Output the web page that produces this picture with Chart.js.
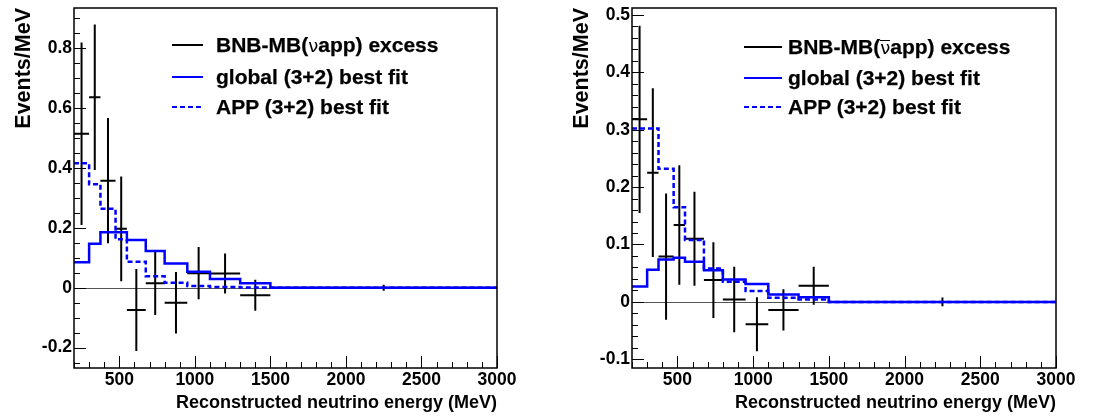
<!DOCTYPE html>
<html>
<head>
<meta charset="utf-8">
<script src="https://cdn.jsdelivr.net/npm/chart.js"></script>
<style>
html,body{margin:0;padding:0;background:#fff;width:1093px;height:419px;overflow:hidden;}
.panel{position:absolute;top:0;height:419px;}
.legend{position:absolute;left:0;top:0;font-family:'Liberation Sans',Arial,Helvetica,sans-serif;font-weight:bold;font-size:21px;color:#000;-webkit-text-stroke:0.25px #000;}
.row{position:absolute;white-space:nowrap;height:24px;line-height:24px;}
.sample{position:absolute;top:11px;height:2px;}
.txt{position:absolute;top:0;}
.nu{font-family:'DejaVu Sans',sans-serif;font-weight:normal;font-size:18px;-webkit-text-stroke:0;}
.bar{display:inline-block;line-height:14px;border-top:1.5px solid #000;}
</style>
</head>
<body>
<div class="panel" style="left:0;width:546px;"><canvas id="cNu" width="546" height="419"></canvas></div>
<div class="panel" style="left:558px;width:535px;"><canvas id="cNubar" width="535" height="419"></canvas></div>

<div class="legend">
  <div class="row" style="left:172px;top:33px;"><span class="sample" style="left:0;width:31px;background:#000;"></span><span class="txt" style="left:44px;">BNB-MB(<span class="nu">ν</span>app) excess</span></div>
  <div class="row" style="left:172px;top:65px;"><span class="sample" style="left:0;width:31px;background:#0000ff;"></span><span class="txt" style="left:44px;">global (3+2) best fit</span></div>
  <div class="row" style="left:172px;top:95px;"><span class="sample" style="left:0;width:31px;background:repeating-linear-gradient(to right,#0000ff 0 5px,transparent 5px 8px);"></span><span class="txt" style="left:44px;">APP (3+2) best fit</span></div>

  <div class="row" style="left:744px;top:35px;"><span class="sample" style="left:0;width:38px;background:#000;"></span><span class="txt" style="left:44px;">BNB-MB(<span class="nu bar">ν</span>app) excess</span></div>
  <div class="row" style="left:744px;top:66px;"><span class="sample" style="left:0;width:38px;background:#0000ff;"></span><span class="txt" style="left:44px;">global (3+2) best fit</span></div>
  <div class="row" style="left:744px;top:95px;"><span class="sample" style="left:0;width:38px;background:repeating-linear-gradient(to right,#0000ff 0 5px,transparent 5px 8px);"></span><span class="txt" style="left:44px;">APP (3+2) best fit</span></div>
</div>

<script>
// ---- bins and ticks ----
const binEdges = [200, 300, 375, 475, 550, 675, 800, 950, 1100, 1300, 1500, 3000];
const xTickValues = [500, 1000, 1500, 2000, 2500, 3000];
const xTickLabels = ['500', '1000', '1500', '2000', '2500', '3000'];
const nuYTickValues = [-0.2, 0, 0.2, 0.4, 0.6, 0.8];
const nuYTickLabels = ['-0.2', '0', '0.2', '0.4', '0.6', '0.8'];
const nubarYTickValues = [-0.1, 0, 0.1, 0.2, 0.3, 0.4, 0.5];
const nubarYTickLabels = ['-0.1', '0', '0.1', '0.2', '0.3', '0.4', '0.5'];

// ---- neutrino mode (left) ----
const nuExcess     = [0.515, 0.637, 0.358, 0.197, -0.074, 0.015, -0.050, 0.049, 0.048, -0.025, 0.0];
const nuExcessErr  = [0.305, 0.243, 0.209, 0.175, 0.137, 0.106, 0.103, 0.087, 0.067, 0.052, 0.010];
const nuGlobalFit  = [0.085, 0.147, 0.186, 0.186, 0.160, 0.123, 0.081, 0.054, 0.029, 0.015, 0.0];
const nuAppFit     = [0.416, 0.346, 0.264, 0.162, 0.087, 0.039, 0.017, 0.006, 0.003, 0.001, 0.0];

// ---- antineutrino mode (right) ----
const nubarExcess    = [0.318, 0.225, 0.079, 0.134, 0.110, 0.038, 0.004, -0.039, -0.014, 0.028, 0.0];
const nubarExcessErr = [0.163, 0.147, 0.110, 0.104, 0.082, 0.066, 0.057, 0.047, 0.036, 0.033, 0.0075];
const nubarGlobalFit = [0.027, 0.056, 0.074, 0.077, 0.070, 0.055, 0.039, 0.031, 0.013, 0.008, 0.0];
const nubarAppFit    = [0.302, 0.302, 0.232, 0.165, 0.108, 0.058, 0.035, 0.019, 0.007, 0.004, 0.0];

const FONT = "'Liberation Sans', Arial, Helvetica, sans-serif";
Chart.defaults.font.family = FONT;
Chart.defaults.font.weight = 'bold';
Chart.defaults.color = '#000';

function stepData(vals) {
  const d = vals.map((v, i) => ({x: binEdges[i], y: v}));
  d.push({x: binEdges[binEdges.length - 1], y: vals[vals.length - 1]});
  return d;
}
function errData(vals, errs) {
  const d = [];
  vals.forEach((v, i) => {
    const lo = binEdges[i], hi = binEdges[i + 1], c = (lo + hi) / 2;
    d.push({x: c, y: v - errs[i]}, {x: c, y: v + errs[i]}, {x: c, y: null},
           {x: lo, y: v}, {x: hi, y: v}, {x: hi, y: null});
  });
  return d;
}

const frameTicks = {
  id: 'frameTicks',
  beforeDatasetsDraw(chart) {
    const {ctx, chartArea: a, scales: {y}} = chart;
    const y0 = Math.round(y.getPixelForValue(0)) + 0.5;
    ctx.save();
    ctx.strokeStyle = '#555';
    ctx.lineWidth = 1;
    ctx.beginPath(); ctx.moveTo(a.left, y0); ctx.lineTo(a.right, y0); ctx.stroke();
    ctx.restore();
  },
  afterDraw(chart, args, o) {
    const {ctx, chartArea: a, scales: {x, y}} = chart;
    ctx.save();
    ctx.strokeStyle = '#000';
    ctx.lineWidth = 1;
    const isMajor = (v, m) => Math.abs(v / m - Math.round(v / m)) < 1e-6;
    for (let k = Math.ceil(x.min / o.xMinor - 1e-9); k * o.xMinor <= x.max + 1e-9; k++) {
      const v = k * o.xMinor, px = Math.round(x.getPixelForValue(v)) + 0.5;
      const len = isMajor(v, o.xMajor) ? 12 : 6;
      ctx.beginPath(); ctx.moveTo(px, a.bottom); ctx.lineTo(px, a.bottom - len); ctx.stroke();
    }
    for (let k = Math.ceil(y.min / o.yMinor - 1e-9); k * o.yMinor <= y.max + 1e-9; k++) {
      const v = k * o.yMinor, py = Math.round(y.getPixelForValue(v)) + 0.5;
      const len = isMajor(v, o.yMajor) ? 12 : 6;
      ctx.beginPath(); ctx.moveTo(a.left, py); ctx.lineTo(a.left + len, py); ctx.stroke();
    }
    ctx.lineWidth = 1.5;
    ctx.strokeRect(a.left, a.top, a.right - a.left, a.bottom - a.top);
    ctx.restore();
  }
};

function makePanel(id, padRight, excess, err, globalFit, appFit, yMin, yMax, yTicks, yLabels, yMinor, yMajor) {
  new Chart(document.getElementById(id), {
    type: 'line',
    data: {
      datasets: [
        {data: stepData(globalFit), stepped: 'before', borderColor: '#0000ff', borderWidth: 2.5,
         pointRadius: 0, fill: false, order: 0, borderJoinStyle: 'miter'},
        {data: stepData(appFit), stepped: 'before', borderColor: '#0000ff', borderWidth: 2.5, borderDash: [5, 3],
         pointRadius: 0, fill: false, order: 1, borderJoinStyle: 'miter'},
        {data: errData(excess, err), borderColor: '#000', borderWidth: 2, pointRadius: 0,
         fill: false, spanGaps: false, order: 2, tension: 0}
      ]
    },
    options: {
      responsive: false, animation: false, devicePixelRatio: 1,
      layout: {padding: {left: 0, top: 8, right: padRight, bottom: 0}},
      plugins: {
        legend: {display: false}, tooltip: {enabled: false},
        frameTicks: {xMinor: 100, xMajor: 500, yMinor: yMinor, yMajor: yMajor}
      },
      scales: {
        x: {
          type: 'linear', min: 200, max: 3000,
          grid: {display: false, drawTicks: false}, border: {display: false},
          afterBuildTicks: s => { s.ticks = xTickValues.map(v => ({value: v})); },
          afterFit: s => { s.height = 51; s.paddingLeft = 0; s.paddingRight = 0; },
          ticks: {autoSkip: false, maxRotation: 0, padding: 2, color: '#000',
                  font: {size: 17.5, weight: 'bold'}, callback: (v, i) => xTickLabels[i]},
          title: {display: true, text: 'Reconstructed neutrino energy (MeV)', align: 'end', color: '#000',
                  font: {size: 18, weight: 'bold'}, padding: {top: 0, bottom: 5}}
        },
        y: {
          type: 'linear', min: yMin, max: yMax,
          grid: {display: false, drawTicks: false}, border: {display: false},
          afterBuildTicks: s => { s.ticks = yTicks.map(v => ({value: v})); },
          afterFit: s => { s.width = 74; s.paddingTop = 0; s.paddingBottom = 0; },
          ticks: {autoSkip: false, padding: 2, color: '#000',
                  font: {size: 17.5, weight: 'bold'}, callback: (v, i) => yLabels[i]},
          title: {display: true, text: 'Events/MeV', align: 'end', color: '#000',
                  font: {size: 21.5, weight: 'bold'}, padding: {top: 11, bottom: 0}}
        }
      }
    },
    plugins: [frameTicks]
  });
}

makePanel('cNu', 49, nuExcess, nuExcessErr, nuGlobalFit, nuAppFit, -0.268, 0.935,
          nuYTickValues, nuYTickLabels, 0.05, 0.2);
makePanel('cNubar', 37, nubarExcess, nubarExcessErr, nubarGlobalFit, nubarAppFit, -0.1152, 0.512,
          nubarYTickValues, nubarYTickLabels, 0.02, 0.1);
</script>
</body>
</html>
